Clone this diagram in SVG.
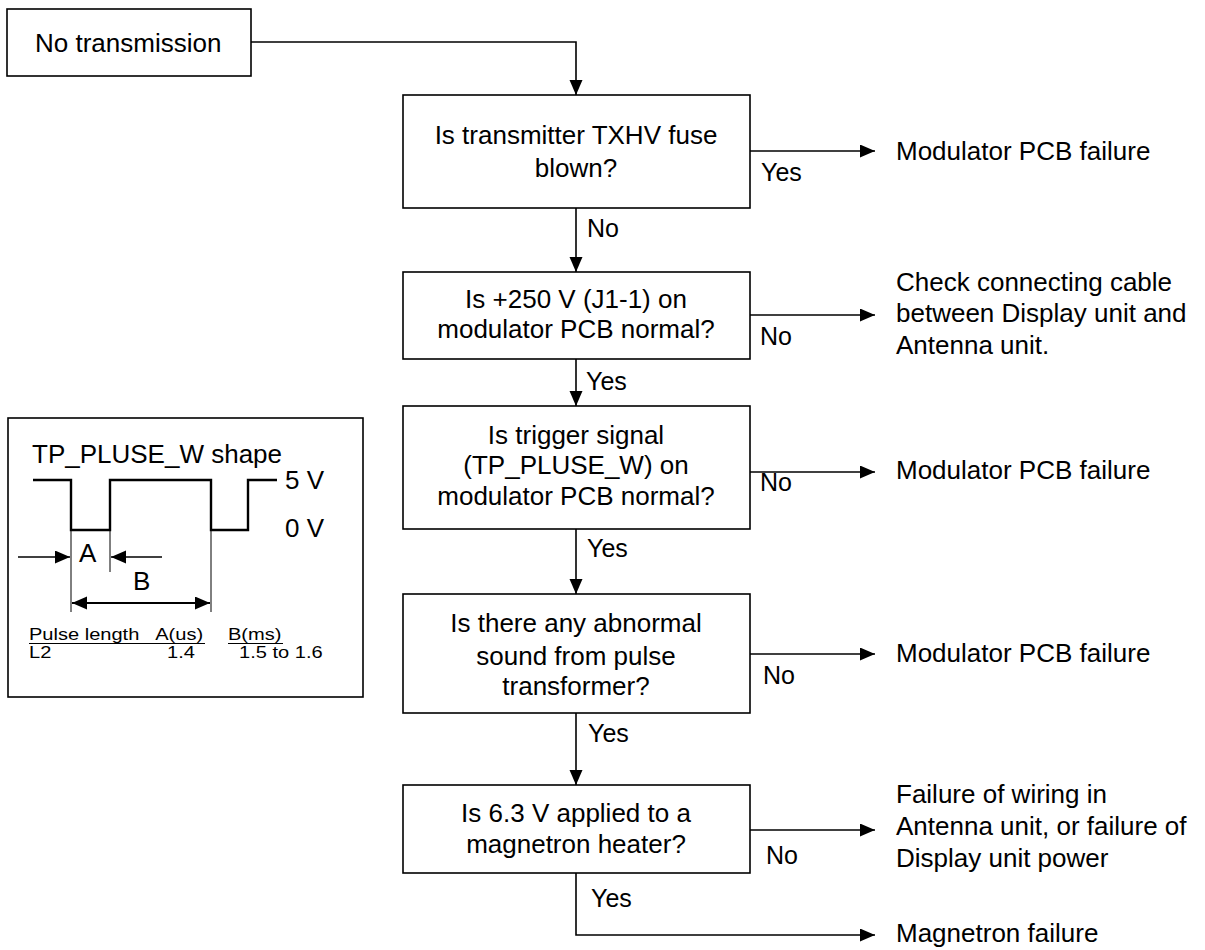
<svg xmlns="http://www.w3.org/2000/svg" width="1205" height="950" viewBox="0 0 1205 950">
<style>
  .box { fill: #fff; stroke: #000; stroke-width: 1.6; }
  .t { font-family: "Liberation Sans", Arial, sans-serif; font-size: 26px; fill: #000; }
  .c { text-anchor: middle; }
  .lbl { font-family: "Liberation Sans", Arial, sans-serif; font-size: 25px; fill: #000; }
  .small { font-family: "Liberation Sans", Arial, sans-serif; font-size: 17px; fill: #000; }
  .conn { fill: none; stroke: #000; stroke-width: 1.6; }
  .wave { fill: none; stroke: #000; stroke-width: 2.4; }
  .thin { fill: none; stroke: #000; stroke-width: 1; }
</style>
<defs>
  <marker id="arr" markerUnits="userSpaceOnUse" markerWidth="16" markerHeight="14" refX="15" refY="6.5" orient="auto">
    <path d="M0,0 L15,6.5 L0,13 z" fill="#000"/>
  </marker>
  <marker id="arrS" markerUnits="userSpaceOnUse" markerWidth="16" markerHeight="14" refX="15" refY="6.5" orient="auto-start-reverse">
    <path d="M0,0 L15,6.5 L0,13 z" fill="#000"/>
  </marker>
</defs>
<rect width="1205" height="950" fill="#fff"/>

<g id="connectors">
  <path class="conn" d="M251,42 H576 V95" marker-end="url(#arr)"/>
  <path class="conn" d="M576,208 V272" marker-end="url(#arr)"/>
  <path class="conn" d="M576,359 V406" marker-end="url(#arr)"/>
  <path class="conn" d="M576,529 V594" marker-end="url(#arr)"/>
  <path class="conn" d="M576,713 V785" marker-end="url(#arr)"/>
  <path class="conn" d="M750,151 H875" marker-end="url(#arr)"/>
  <path class="conn" d="M750,315 H875" marker-end="url(#arr)"/>
  <path class="conn" d="M750,472 H875" marker-end="url(#arr)"/>
  <path class="conn" d="M750,654 H875" marker-end="url(#arr)"/>
  <path class="conn" d="M750,830 H875" marker-end="url(#arr)"/>
  <path class="conn" d="M576,873 V935 H875" marker-end="url(#arr)"/>
  <text class="lbl" x="761" y="181">Yes</text>
  <text class="lbl" x="587" y="237">No</text>
  <text class="lbl" x="760" y="345">No</text>
  <text class="lbl" x="586" y="390">Yes</text>
  <text class="lbl" x="760" y="491">No</text>
  <text class="lbl" x="587" y="557">Yes</text>
  <text class="lbl" x="763" y="684">No</text>
  <text class="lbl" x="588" y="742">Yes</text>
  <text class="lbl" x="766" y="864">No</text>
  <text class="lbl" x="591" y="907">Yes</text>
</g>

<g id="start">
  <rect class="box" x="7" y="9" width="244" height="67"/>
  <text class="t" x="35" y="52">No transmission</text>
</g>

<g id="q1">
  <rect class="box" x="403" y="95" width="347" height="113"/>
  <text class="t c" x="576" y="144">Is transmitter TXHV fuse</text>
  <text class="t c" x="576" y="177">blown?</text>
</g>

<g id="q2">
  <rect class="box" x="403" y="272" width="347" height="87"/>
  <text class="t c" x="576" y="308">Is +250 V (J1-1) on</text>
  <text class="t c" x="576" y="338">modulator PCB normal?</text>
</g>

<g id="q3">
  <rect class="box" x="403" y="406" width="347" height="123"/>
  <text class="t c" x="576" y="444">Is trigger signal</text>
  <text class="t c" x="576" y="474">(TP_PLUSE_W) on</text>
  <text class="t c" x="576" y="505">modulator PCB normal?</text>
</g>

<g id="q4">
  <rect class="box" x="403" y="594" width="347" height="119"/>
  <text class="t c" x="576" y="632">Is there any abnormal</text>
  <text class="t c" x="576" y="665">sound from pulse</text>
  <text class="t c" x="576" y="695">transformer?</text>
</g>

<g id="q5">
  <rect class="box" x="403" y="785" width="347" height="88"/>
  <text class="t c" x="576" y="822">Is 6.3 V applied to a</text>
  <text class="t c" x="576" y="853">magnetron heater?</text>
</g>

<g id="r1">
  <text class="t" x="896" y="160">Modulator PCB failure</text>
</g>
<g id="r2">
  <text class="t" x="896" y="291">Check connecting cable</text>
  <text class="t" x="896" y="322">between Display unit and</text>
  <text class="t" x="896" y="354">Antenna unit.</text>
</g>
<g id="r3">
  <text class="t" x="896" y="479">Modulator PCB failure</text>
</g>
<g id="r4">
  <text class="t" x="896" y="662">Modulator PCB failure</text>
</g>
<g id="r5">
  <text class="t" x="896" y="803">Failure of wiring in</text>
  <text class="t" x="896" y="835">Antenna unit, or failure of</text>
  <text class="t" x="896" y="867">Display unit power</text>
</g>
<g id="r6">
  <text class="t" x="896" y="942">Magnetron failure</text>
</g>

<g id="pulse-panel">
  <rect class="box" x="8" y="418" width="355" height="279"/>
  <text class="t" x="32" y="463">TP_PLUSE_W shape</text>
  <path class="wave" d="M33,480 H71 V530 H110 V480 H211 V530 H248 V480 H277"/>
  <text class="t" x="285" y="489">5 V</text>
  <text class="t" x="285" y="537">0 V</text>
  <path class="thin" d="M71,530 V612 M110,530 V572 M211,530 V612"/>
  <path class="conn" d="M18,557 H70" marker-end="url(#arr)"/>
  <path class="conn" d="M162,557 H111" marker-end="url(#arr)"/>
  <text class="t" x="79" y="562">A</text>
  <text class="t" x="133" y="590">B</text>
  <path class="conn" style="stroke-width:2" d="M72,603 H210" marker-start="url(#arrS)" marker-end="url(#arr)"/>
  <g transform="translate(29 0) scale(1.18 1)">
    <text class="small" y="640"><tspan x="0">Pulse length</tspan><tspan x="107">A(us)</tspan><tspan x="168.6">B(ms)</tspan></text>
    <text class="small" y="658"><tspan x="0">L2</tspan><tspan x="117">1.4</tspan><tspan x="178">1.5 to 1.6</tspan></text>
  </g>
  <path class="thin" d="M29,643.5 H205 M228,643.5 H283"/>
</g>
</svg>
